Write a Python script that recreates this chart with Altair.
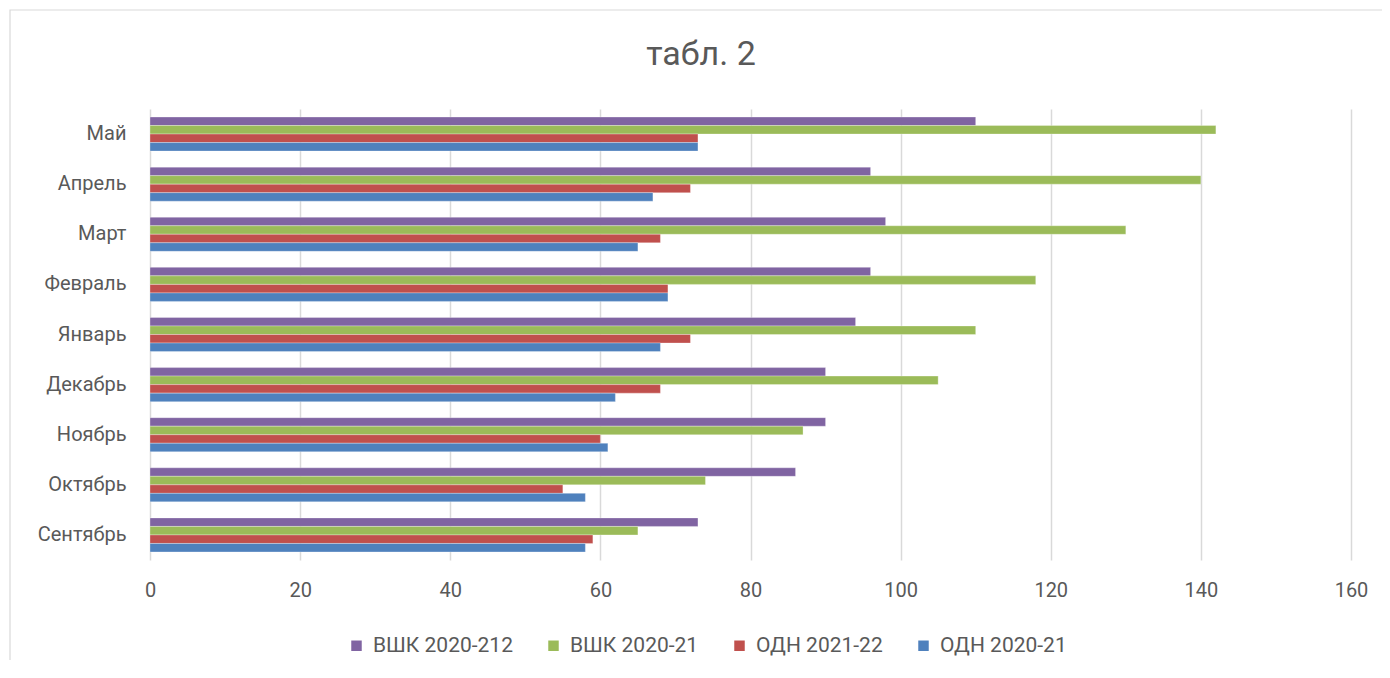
import altair as alt
import pandas as pd

months = ["Май", "Апрель", "Март", "Февраль", "Январь", "Декабрь", "Ноябрь", "Октябрь", "Сентябрь"]
series = ["ВШК 2020-212", "ВШК 2020-21", "ОДН 2021-22", "ОДН 2020-21"]
colors = ["#8064A2", "#9BBB59", "#C0504D", "#4F81BD"]
title_text = "табл. 2"

vshk_2020_212 = [110, 96, 98, 96, 94, 90, 90, 86, 73]
vshk_2020_21 = [142, 140, 130, 118, 110, 105, 87, 74, 65]
odn_2021_22 = [73, 72, 68, 69, 72, 68, 60, 55, 59]
odn_2020_21 = [73, 67, 65, 69, 68, 62, 61, 58, 58]

rows = []
for s, vals in zip(series, [vshk_2020_212, vshk_2020_21, odn_2021_22, odn_2020_21]):
    for m, v in zip(months, vals):
        rows.append({"month": m, "series": s, "value": v})
df = pd.DataFrame(rows)

FONT = "Roboto, sans-serif"
GREY = "#595959"
FS = 20

bars = alt.Chart(df).mark_bar(stroke="white", strokeWidth=0.6, strokeOpacity=0.5).encode(
    x=alt.X("value:Q", scale=alt.Scale(domain=[0, 160], nice=False),
            axis=alt.Axis(values=list(range(0, 161, 20)), title=None, domain=False, ticks=False,
                          labelFlush=False,
                          labelFontSize=FS, labelColor=GREY, labelFont=FONT, labelPadding=20,
                          gridColor="#d9d9d9", gridWidth=1.5)),
    y=alt.Y("month:N", sort=months, scale=alt.Scale(paddingInner=0.32, paddingOuter=0.16),
            axis=alt.Axis(title=None, domain=False, ticks=False, grid=False,
                          labelFontSize=FS, labelColor=GREY, labelFont=FONT, labelPadding=24)),
    yOffset=alt.YOffset("series:N", sort=series, scale=alt.Scale(paddingInner=0, paddingOuter=0)),
    color=alt.Color("series:N", sort=series,
                    scale=alt.Scale(domain=series, range=colors),
                    legend=alt.Legend(title=None, orient="none", direction="horizontal",
                                      legendX=196, legendY=526,
                                      symbolType="square", symbolSize=110, symbolStrokeWidth=0,
                                      labelFontSize=21, labelColor=GREY, labelFont=FONT,
                                      columnPadding=30, labelOffset=6)),
)

title = alt.Chart(pd.DataFrame({"t": [title_text]})).mark_text(
    fontSize=34, color=GREY, font=FONT, align="center", baseline="middle"
).encode(text="t:N", x=alt.value(551), y=alt.value(-54))

border = alt.Chart(pd.DataFrame({"a": [0]})).mark_rect(
    fill=None, stroke="#d9d9d9", strokeWidth=1.2
).encode(x=alt.value(-140), x2=alt.value(1240), y=alt.value(-99), y2=alt.value(570))

chart = alt.layer(border, title, bars).properties(
    width=1201, height=451,
    autosize=alt.AutoSizeParams(type="none"),
    padding={"left": 142, "top": 101, "right": 31, "bottom": 100},
).configure_view(stroke=None)

chart.save("out.html", embed_options={"renderer": "svg", "actions": False})
